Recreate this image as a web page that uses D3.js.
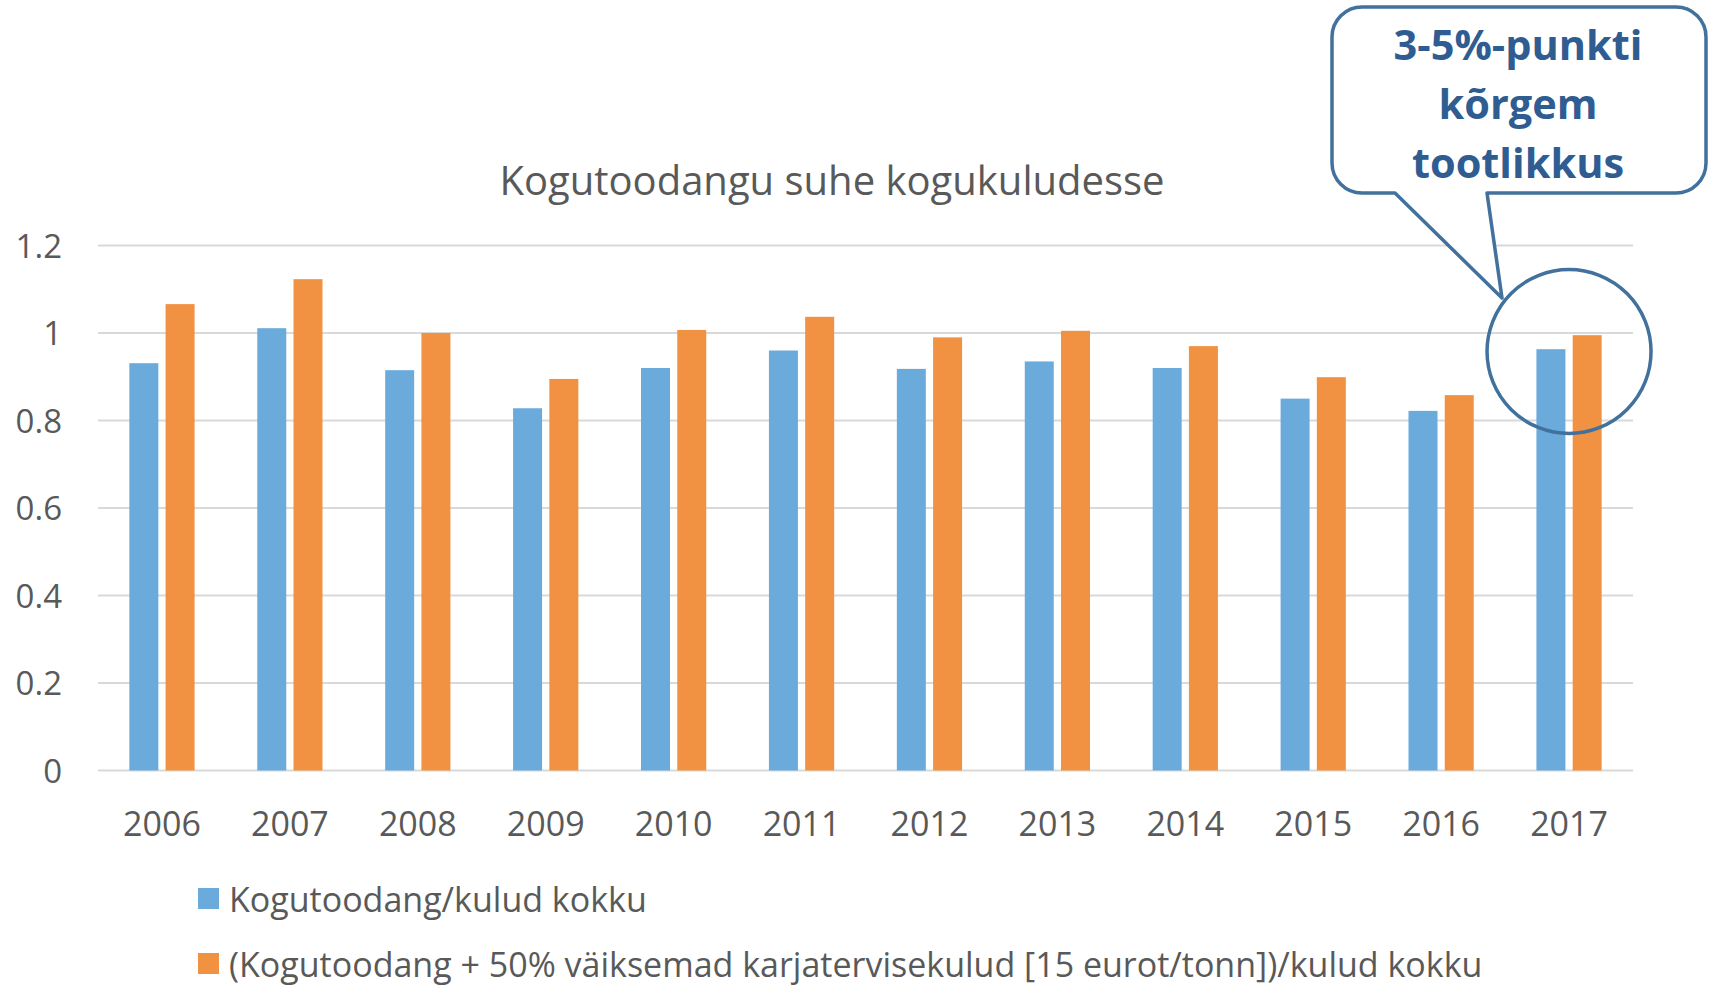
<!DOCTYPE html>
<html>
<head>
<meta charset="utf-8">
<script src="https://cdn.jsdelivr.net/npm/d3@7"></script>
<style>
  body { margin: 0; background: #fff; }
  text { font-family: "Open Sans", sans-serif; }
</style>
</head>
<body>
<div class="canvas"></div>
<script>
// data
const years = ['2006', '2007', '2008', '2009', '2010', '2011', '2012', '2013', '2014', '2015', '2016', '2017'];
const kogutoodang = [0.931, 1.011, 0.915, 0.828, 0.920, 0.960, 0.918, 0.935, 0.920, 0.850, 0.822, 0.963];
const vaiksemadKulud = [1.066, 1.123, 1.000, 0.895, 1.007, 1.037, 0.990, 1.005, 0.970, 0.899, 0.858, 0.995];
const yTicks = [0, 0.2, 0.4, 0.6, 0.8, 1, 1.2];
const seriesNames = [
    'Kogutoodang/kulud kokku',
    '(Kogutoodang + 50% väiksemad karjatervisekulud [15 eurot/tonn])/kulud kokku'
];
const colors = ['#6aabdc', '#f19242'];
const calloutLines = ['3-5%-punkti', 'kõrgem', 'tootlikkus'];

const svg = d3.select('.canvas')
    .append('svg')
    .attr('width', 1712)
    .attr('height', 987);

// margins and dimensions
const margin = { top: 245.5, right: 79, bottom: 216.5, left: 98 };
const graphWidth = 1712 - margin.left - margin.right;
const graphHeight = 987 - margin.top - margin.bottom;

const graph = svg.append('g')
    .attr('transform', `translate(${margin.left}, ${margin.top})`);

// scales
const y = d3.scaleLinear()
    .domain([0, 1.2])
    .range([graphHeight, 0]);

const x = d3.scaleBand()
    .domain(years)
    .range([0, graphWidth])
    .paddingInner(0.49)
    .paddingOuter(0.245);

const x1 = d3.scaleBand()
    .domain([0, 1])
    .range([0, x.bandwidth()])
    .paddingInner(0.2);

// gridlines
graph.append('g')
    .selectAll('line')
    .data(yTicks)
    .enter().append('line')
    .attr('x1', 0)
    .attr('x2', graphWidth)
    .attr('y1', d => y(d))
    .attr('y2', d => y(d))
    .attr('stroke', '#d9d9d9')
    .attr('stroke-width', 2);

// axes
const yAxis = d3.axisLeft(y)
    .tickValues(yTicks)
    .tickSize(0)
    .tickPadding(36)
    .tickFormat(d => d);

const xAxis = d3.axisBottom(x)
    .tickSize(0)
    .tickPadding(41);

const yAxisGroup = graph.append('g').call(yAxis);
const xAxisGroup = graph.append('g')
    .attr('transform', `translate(0, ${graphHeight})`)
    .call(xAxis);

yAxisGroup.select('.domain').remove();
xAxisGroup.select('.domain').remove();

yAxisGroup.selectAll('text')
    .attr('font-size', 33)
    .attr('fill', '#595959')
    .attr('dy', '0.36em')
    .style('font-family', '"Open Sans", sans-serif');

xAxisGroup.selectAll('text')
    .attr('font-size', 34)
    .attr('fill', '#595959')
    .style('font-family', '"Open Sans", sans-serif');

// bars
const rows = years.map((yr, i) => ({ year: yr, values: [kogutoodang[i], vaiksemadKulud[i]] }));

graph.append('g')
    .selectAll('g')
    .data(rows)
    .enter().append('g')
    .attr('transform', d => `translate(${x(d.year)}, 0)`)
    .selectAll('rect')
    .data(d => d.values.map((v, k) => ({ k, v })))
    .enter().append('rect')
    .attr('x', d => x1(d.k))
    .attr('width', x1.bandwidth())
    .attr('y', d => y(d.v))
    .attr('height', d => graphHeight - y(d.v))
    .attr('fill', d => colors[d.k]);

// title
svg.append('text')
    .attr('x', 832)
    .attr('y', 195)
    .attr('text-anchor', 'middle')
    .attr('font-size', 40)
    .attr('fill', '#595959')
    .text('Kogutoodangu suhe kogukuludesse');

// legend (second row kept just inside the bottom edge)
const legend = svg.append('g')
    .selectAll('g')
    .data(seriesNames)
    .enter().append('g')
    .attr('transform', (d, i) => `translate(198, ${888 + i * 65})`);

legend.append('rect')
    .attr('width', 21)
    .attr('height', 21)
    .attr('fill', (d, i) => colors[i]);

legend.append('text')
    .attr('x', 31)
    .attr('y', 24)
    .attr('font-size', 34)
    .attr('fill', '#595959')
    .text(d => d);

// callout: circle around 2017 + speech bubble
const cx = x(years[11]) + x.bandwidth() / 2;
const cy = y(0.96);
const callColor = '#41719c';

svg.append('circle')
    .attr('cx', margin.left + cx)
    .attr('cy', margin.top + cy + 1)
    .attr('r', 82)
    .attr('fill', 'none')
    .attr('stroke', callColor)
    .attr('stroke-width', 3.5);

const bx0 = 1332, by0 = 7, bx1 = 1706, by1 = 193, r = 30;
const bubble = d3.path();
bubble.moveTo(bx0 + r, by0);
bubble.lineTo(bx1 - r, by0);
bubble.arcTo(bx1, by0, bx1, by0 + r, r);
bubble.lineTo(bx1, by1 - r);
bubble.arcTo(bx1, by1, bx1 - r, by1, r);
bubble.lineTo(1487, by1);
bubble.lineTo(1502, 298);
bubble.lineTo(1395, by1);
bubble.lineTo(bx0 + r, by1);
bubble.arcTo(bx0, by1, bx0, by1 - r, r);
bubble.lineTo(bx0, by0 + r);
bubble.arcTo(bx0, by0, bx0 + r, by0, r);
bubble.closePath();

svg.append('path')
    .attr('d', bubble.toString())
    .attr('fill', '#fff')
    .attr('stroke', callColor)
    .attr('stroke-width', 3.5)
    .attr('stroke-linejoin', 'round');

svg.append('g')
    .selectAll('text')
    .data(calloutLines)
    .enter().append('text')
    .attr('x', 1518)
    .attr('y', (d, i) => 60 + i * 59)
    .attr('text-anchor', 'middle')
    .attr('font-size', 41.5)
    .attr('font-weight', 'bold')
    .attr('fill', '#2f5d92')
    .text(d => d);
</script>
</body>
</html>
